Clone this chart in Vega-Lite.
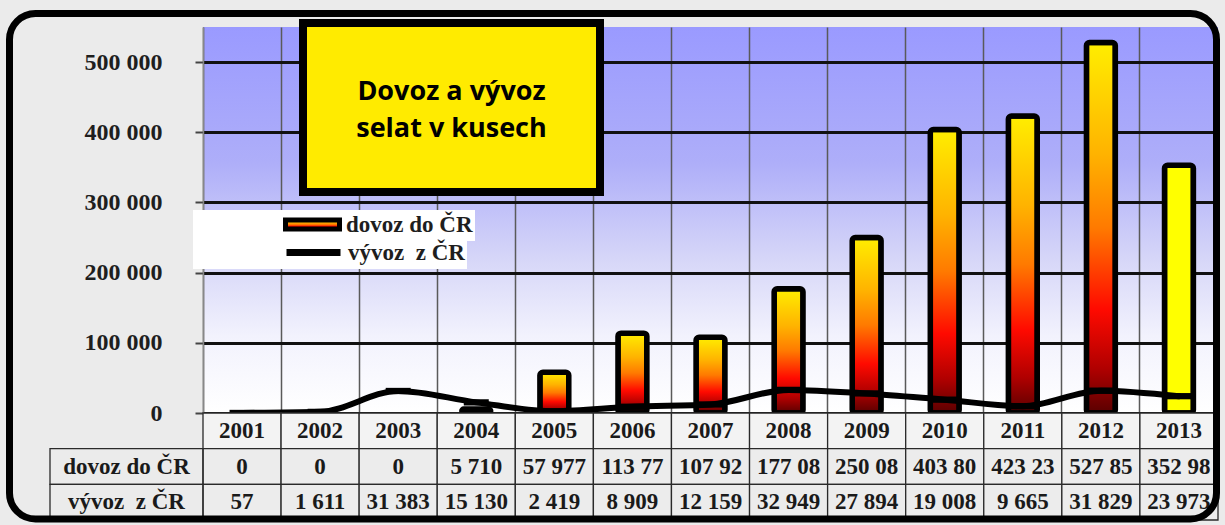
{
  "$schema": "https://vega.github.io/schema/vega-lite/v6.json",
  "width": 1015,
  "height": 386,
  "autosize": {"type": "none"},
  "padding": {"left": 203, "top": 27, "right": 7, "bottom": 112},
  "background": "#ebebeb",
  "data": {
    "values": [
      {"rok": "2001", "dovoz": 0, "vyvoz": 57, "dovoz_txt": "0", "vyvoz_txt": "57"},
      {"rok": "2002", "dovoz": 0, "vyvoz": 1611, "dovoz_txt": "0", "vyvoz_txt": "1 611"},
      {"rok": "2003", "dovoz": 0, "vyvoz": 31383, "dovoz_txt": "0", "vyvoz_txt": "31 383"},
      {"rok": "2004", "dovoz": 5710, "vyvoz": 15130, "dovoz_txt": "5 710", "vyvoz_txt": "15 130"},
      {"rok": "2005", "dovoz": 57977, "vyvoz": 2419, "dovoz_txt": "57 977", "vyvoz_txt": "2 419"},
      {"rok": "2006", "dovoz": 113770, "vyvoz": 8909, "dovoz_txt": "113 77", "vyvoz_txt": "8 909"},
      {"rok": "2007", "dovoz": 107920, "vyvoz": 12159, "dovoz_txt": "107 92", "vyvoz_txt": "12 159"},
      {"rok": "2008", "dovoz": 177080, "vyvoz": 32949, "dovoz_txt": "177 08", "vyvoz_txt": "32 949"},
      {"rok": "2009", "dovoz": 250080, "vyvoz": 27894, "dovoz_txt": "250 08", "vyvoz_txt": "27 894"},
      {"rok": "2010", "dovoz": 403800, "vyvoz": 19008, "dovoz_txt": "403 80", "vyvoz_txt": "19 008"},
      {"rok": "2011", "dovoz": 423230, "vyvoz": 9665, "dovoz_txt": "423 23", "vyvoz_txt": "9 665"},
      {"rok": "2012", "dovoz": 527850, "vyvoz": 31829, "dovoz_txt": "527 85", "vyvoz_txt": "31 829"},
      {"rok": "2013", "dovoz": 352980, "vyvoz": 23973, "dovoz_txt": "352 98", "vyvoz_txt": "23 973"}
    ]
  },
  "resolve": {"scale": {"x": "independent", "y": "independent"}},
  "layer": [
    {
      "transform": [{"filter": "datum.dovoz > 0 && datum.rok != '2013'"}],
      "mark": {
        "type": "bar",
        "width": {"band": 0.37},
        "strokeWidth": 5.5,
        "cornerRadius": 3,
        "fill": {
          "gradient": "linear", "x1": 0, "y1": 0, "x2": 0, "y2": 1,
          "stops": [
            {"offset": 0, "color": "#ffee00"},
            {"offset": 0.3, "color": "#ffb300"},
            {"offset": 0.5, "color": "#ff7a00"},
            {"offset": 0.72, "color": "#ff0a00"},
            {"offset": 0.88, "color": "#b00000"},
            {"offset": 1, "color": "#5a0000"}
          ]
        }
      },
      "encoding": {
        "x": {
          "field": "rok", "type": "ordinal",
          "scale": {"type": "band", "domain": ["2001","2002","2003","2004","2005","2006","2007","2008","2009","2010","2011","2012","2013"], "paddingInner": 0, "paddingOuter": 0},
          "axis": {"bandPosition": 0, "grid": true, "gridColor": "#5a5a5a", "gridWidth": 1.5, "labels": false, "ticks": false, "domain": false, "title": null}
        },
        "y": {
          "field": "dovoz", "type": "quantitative",
          "scale": {"domain": [0, 550000], "nice": false, "zero": true},
          "axis": {
            "values": [0, 100000, 200000, 300000, 400000, 500000],
            "format": ",.0f",
            "grid": true, "gridColor": "#111111", "gridWidth": 3,
            "tickSize": 8, "tickWidth": 2, "tickColor": "#444444",
            "labelPadding": 33, "labelFont": "Liberation Serif", "labelFontWeight": "bold",
            "labelFontSize": 24, "labelColor": "#1e1e1e",
            "domainColor": "#888888", "domainWidth": 1.5, "title": null
          }
        },
        "stroke": {
          "datum": "dovoz do ČR",
          "scale": {"domain": ["dovoz do ČR"], "range": ["#000000"]},
          "legend": {
            "orient": "none", "legendX": -10, "legendY": 183, "title": null,
            "fillColor": "#ffffff", "padding": 2,
            "symbolType": "M-2.7,-0.45H2.7V0.45H-2.7Z", "symbolSize": 400,
            "symbolStrokeWidth": 5, "symbolOffset": 105, "labelOffset": 21,
            "labelFont": "Liberation Serif", "labelFontWeight": "bold", "labelFontSize": 23, "labelColor": "#1e1e1e"
          }
        }
      }
    },
    {
      "transform": [{"filter": "datum.rok == '2013'"}],
      "mark": {"type": "bar", "width": {"band": 0.37}, "strokeWidth": 5.5, "cornerRadius": 3, "fill": "#ffff00", "stroke": "#000000"},
      "encoding": {
        "x": {"field": "rok", "type": "ordinal", "scale": {"type": "band", "domain": ["2001","2002","2003","2004","2005","2006","2007","2008","2009","2010","2011","2012","2013"], "paddingInner": 0, "paddingOuter": 0}, "axis": null},
        "y": {"field": "dovoz", "type": "quantitative", "scale": {"domain": [0, 550000], "nice": false, "zero": true}, "axis": null}
      }
    },
    {
      "mark": {"type": "line", "interpolate": "monotone", "strokeWidth": 6, "strokeCap": "round"},
      "encoding": {
        "x": {"field": "rok", "type": "ordinal", "scale": {"type": "band", "domain": ["2001","2002","2003","2004","2005","2006","2007","2008","2009","2010","2011","2012","2013"], "paddingInner": 0, "paddingOuter": 0}, "axis": null},
        "y": {"field": "vyvoz", "type": "quantitative", "scale": {"domain": [0, 550000], "nice": false, "zero": true}, "axis": null},
        "color": {
          "datum": "vývoz\u00a0 z ČR",
          "scale": {"domain": ["vývoz\u00a0 z ČR"], "range": ["#000000"]},
          "legend": {
            "orient": "none", "legendX": -10, "legendY": 210, "title": null,
            "fillColor": "#ffffff", "padding": 2,
            "symbolType": "M-2.7,0H2.7", "symbolSize": 400,
            "symbolStrokeWidth": 7, "symbolStrokeColor": "#000000", "symbolOffset": 105, "labelOffset": 21,
            "labelFont": "Liberation Serif", "labelFontWeight": "bold", "labelFontSize": 23, "labelColor": "#1e1e1e"
          }
        }
      }
    },
    {
      "mark": {"type": "point", "shape": "M-1,-0.25H1V0.25H-1Z", "size": 625, "filled": true, "color": "#000000", "opacity": 1},
      "encoding": {
        "x": {"field": "rok", "type": "ordinal", "scale": {"type": "band", "domain": ["2001","2002","2003","2004","2005","2006","2007","2008","2009","2010","2011","2012","2013"], "paddingInner": 0, "paddingOuter": 0}, "axis": null},
        "y": {"field": "vyvoz", "type": "quantitative", "scale": {"domain": [0, 550000], "nice": false, "zero": true}, "axis": null}
      }
    },
    {
      "transform": [{"fold": ["rok", "dovoz_txt", "vyvoz_txt"], "as": ["radek", "text"]}],
      "mark": {"type": "rect", "stroke": "#2a2a2a", "strokeWidth": 1.3},
      "encoding": {
        "x": {"field": "rok", "type": "ordinal", "scale": {"type": "band", "domain": ["2001","2002","2003","2004","2005","2006","2007","2008","2009","2010","2011","2012","2013"], "paddingInner": 0, "paddingOuter": 0}, "axis": null},
        "y": {"field": "radek", "type": "nominal", "scale": {"type": "band", "domain": ["rok", "dovoz_txt", "vyvoz_txt"], "range": [386, 493], "paddingInner": 0, "paddingOuter": 0}, "axis": null},
        "fill": {"condition": {"test": "datum.radek === 'rok'", "value": "#f3f3f3"}, "value": "#ececec"}
      }
    },
    {
      "transform": [{"fold": ["rok", "dovoz_txt", "vyvoz_txt"], "as": ["radek", "text"]}],
      "mark": {"type": "text", "font": "Liberation Serif", "fontWeight": "bold", "fontSize": 23, "color": "#1a1a1a", "align": "center", "baseline": "middle"},
      "encoding": {
        "x": {"field": "rok", "type": "ordinal", "scale": {"type": "band", "domain": ["2001","2002","2003","2004","2005","2006","2007","2008","2009","2010","2011","2012","2013"], "paddingInner": 0, "paddingOuter": 0}, "axis": null},
        "y": {"field": "radek", "type": "nominal", "scale": {"type": "band", "domain": ["rok", "dovoz_txt", "vyvoz_txt"], "range": [386, 493], "paddingInner": 0, "paddingOuter": 0}, "axis": null},
        "text": {"field": "text", "type": "nominal"}
      }
    },
    {
      "data": {"values": [{"radek": "dovoz_txt", "nazev": "dovoz do ČR"}, {"radek": "vyvoz_txt", "nazev": "vývoz\u00a0 z ČR"}]},
      "mark": {"type": "rect", "fillOpacity": 0, "stroke": "#2a2a2a", "strokeWidth": 1.3},
      "encoding": {
        "x": {"datum": "h", "type": "nominal", "scale": {"type": "band", "domain": ["h"], "range": [-153, 0], "paddingInner": 0, "paddingOuter": 0}, "axis": null},
        "y": {"field": "radek", "type": "nominal", "scale": {"type": "band", "domain": ["rok", "dovoz_txt", "vyvoz_txt"], "range": [386, 493], "paddingInner": 0, "paddingOuter": 0}, "axis": null}
      }
    },
    {
      "data": {"values": [{"radek": "dovoz_txt", "nazev": "dovoz do ČR"}, {"radek": "vyvoz_txt", "nazev": "vývoz\u00a0 z ČR"}]},
      "mark": {"type": "text", "font": "Liberation Serif", "fontWeight": "bold", "fontSize": 23, "color": "#1a1a1a", "align": "center", "baseline": "middle"},
      "encoding": {
        "x": {"datum": "h", "type": "nominal", "scale": {"type": "band", "domain": ["h"], "range": [-153, 0], "paddingInner": 0, "paddingOuter": 0}, "axis": null},
        "y": {"field": "radek", "type": "nominal", "scale": {"type": "band", "domain": ["rok", "dovoz_txt", "vyvoz_txt"], "range": [386, 493], "paddingInner": 0, "paddingOuter": 0}, "axis": null},
        "text": {"field": "nazev", "type": "nominal"}
      }
    },
    {
      "data": {"values": [{}]},
      "mark": {"type": "rect", "fill": "#ffeb00", "stroke": "#000000", "strokeWidth": 8},
      "encoding": {
        "x": {"datum": 0, "type": "quantitative", "scale": {"domain": [0, 1], "range": [100, 397], "nice": false, "zero": false}, "axis": null},
        "x2": {"datum": 1},
        "y": {"datum": 0, "type": "quantitative", "scale": {"domain": [0, 1], "range": [165, -4], "nice": false, "zero": false}, "axis": null},
        "y2": {"datum": 1}
      }
    },
    {
      "data": {"values": [{}]},
      "mark": {"type": "text", "text": ["Dovoz a vývoz", "selat v kusech"], "font": "Open Sans", "fontWeight": "bold", "fontSize": 27, "lineHeight": 37, "align": "center", "baseline": "middle", "color": "#000000"},
      "encoding": {
        "x": {"datum": 0.5, "type": "quantitative", "scale": {"domain": [0, 1], "range": [100, 397], "nice": false, "zero": false}, "axis": null},
        "y": {"datum": 0.593, "type": "quantitative", "scale": {"domain": [0, 1], "range": [165, -4], "nice": false, "zero": false}, "axis": null}
      }
    },
    {
      "data": {"values": [{}]},
      "mark": {"type": "rect", "fillOpacity": 0, "stroke": "#000000", "strokeWidth": 7, "cornerRadius": 26},
      "encoding": {
        "x": {"datum": 0, "type": "quantitative", "scale": {"domain": [0, 1], "range": [-193.5, 1013.5], "nice": false, "zero": false}, "axis": null},
        "x2": {"datum": 1},
        "y": {"datum": 0, "type": "quantitative", "scale": {"domain": [0, 1], "range": [492, -13.5], "nice": false, "zero": false}, "axis": null},
        "y2": {"datum": 1}
      }
    }
  ],
  "config": {
    "locale": {"number": {"decimal": ",", "thousands": " ", "grouping": [3], "currency": ["", " Kč"]}},
    "view": {
      "stroke": null,
      "fill": {
        "gradient": "linear", "x1": 0, "y1": 0, "x2": 0, "y2": 1,
        "stops": [
          {"offset": 0, "color": "#9a9aff"},
          {"offset": 0.35, "color": "#aeaef9"},
          {"offset": 0.6, "color": "#d6d6f8"},
          {"offset": 0.8, "color": "#f2f2fd"},
          {"offset": 1, "color": "#ffffff"}
        ]
      }
    }
  }
}
